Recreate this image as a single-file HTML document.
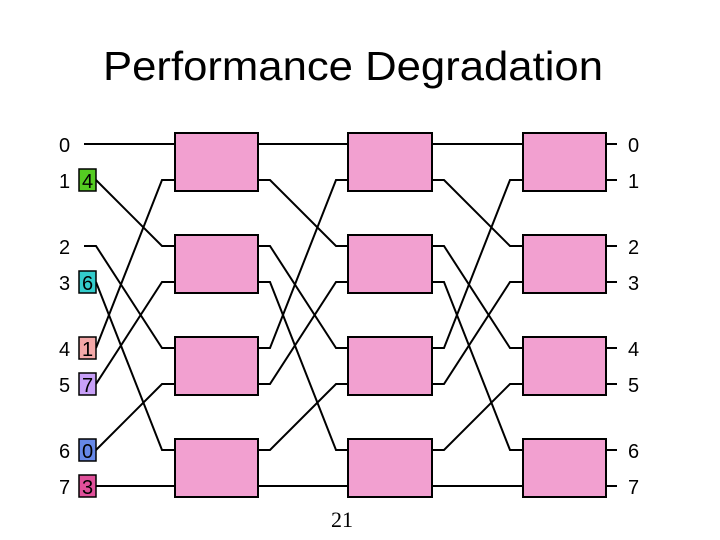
<!DOCTYPE html>
<html><head><meta charset="utf-8"><style>body{margin:0;background:#fff}svg{display:block}</style></head><body>
<svg width="720" height="540" viewBox="0 0 720 540" xmlns="http://www.w3.org/2000/svg" font-family="Liberation Sans, sans-serif">
<text x="353" y="80" font-size="41" text-anchor="middle" textLength="500" lengthAdjust="spacingAndGlyphs">Performance Degradation</text>
<g stroke="#000" stroke-width="2" fill="none">
<path d="M84 144H175"/>
<path d="M96 180L162 246H175"/>
<path d="M84 246H96L162 348H175"/>
<path d="M96 282L162 450H175"/>
<path d="M96 348L162 180H175"/>
<path d="M96 384L162 282H175"/>
<path d="M96 450L162 384H175"/>
<path d="M96 486H175"/>
<path d="M258 144H348"/>
<path d="M258 180H270L336 246H348"/>
<path d="M258 246H270L336 348H348"/>
<path d="M258 282H270L336 450H348"/>
<path d="M258 348H270L336 180H348"/>
<path d="M258 384H270L336 282H348"/>
<path d="M258 450H270L336 384H348"/>
<path d="M258 486H348"/>
<path d="M432 144H523"/>
<path d="M432 180H444L510 246H523"/>
<path d="M432 246H444L510 348H523"/>
<path d="M432 282H444L510 450H523"/>
<path d="M432 348H444L510 180H523"/>
<path d="M432 384H444L510 282H523"/>
<path d="M432 450H444L510 384H523"/>
<path d="M432 486H523"/>
<path d="M606 144H617M606 180H617M606 246H617M606 282H617M606 348H617M606 384H617M606 450H617M606 486H617"/>
</g>
<g fill="#f2a0d0" stroke="#000" stroke-width="2">
<rect x="175" y="133" width="83" height="58"/><rect x="175" y="235" width="83" height="58"/><rect x="175" y="337" width="83" height="58"/><rect x="175" y="439" width="83" height="58"/>
<rect x="348" y="133" width="84" height="58"/><rect x="348" y="235" width="84" height="58"/><rect x="348" y="337" width="84" height="58"/><rect x="348" y="439" width="84" height="58"/>
<rect x="523" y="133" width="83" height="58"/><rect x="523" y="235" width="83" height="58"/><rect x="523" y="337" width="83" height="58"/><rect x="523" y="439" width="83" height="58"/>
</g>
<g stroke="#000" stroke-width="1.5">
<rect x="79" y="169" width="17" height="22" fill="#55cc22"/>
<rect x="79" y="271" width="17" height="22" fill="#33cccc"/>
<rect x="79" y="337" width="17" height="22" fill="#f4a8a8"/>
<rect x="79" y="373" width="17" height="22" fill="#c8a0f8"/>
<rect x="79" y="439" width="17" height="22" fill="#6688e8"/>
<rect x="79" y="475" width="17" height="22" fill="#e0509a"/>
</g>
<g font-size="20">
<text x="59" y="152">0</text><text x="59" y="188">1</text><text x="59" y="254">2</text><text x="59" y="290">3</text>
<text x="59" y="356">4</text><text x="59" y="392">5</text><text x="59" y="458">6</text><text x="59" y="494">7</text>
<text x="82" y="188">4</text><text x="82" y="290">6</text><text x="82" y="356">1</text><text x="82" y="392">7</text><text x="82" y="458">0</text><text x="82" y="494">3</text>
<text x="628" y="152">0</text><text x="628" y="188">1</text><text x="628" y="254">2</text><text x="628" y="290">3</text>
<text x="628" y="356">4</text><text x="628" y="392">5</text><text x="628" y="458">6</text><text x="628" y="494">7</text>
</g>
<text x="342" y="527" font-size="22" font-family="Liberation Serif, serif" text-anchor="middle">21</text>
</svg>
</body></html>
